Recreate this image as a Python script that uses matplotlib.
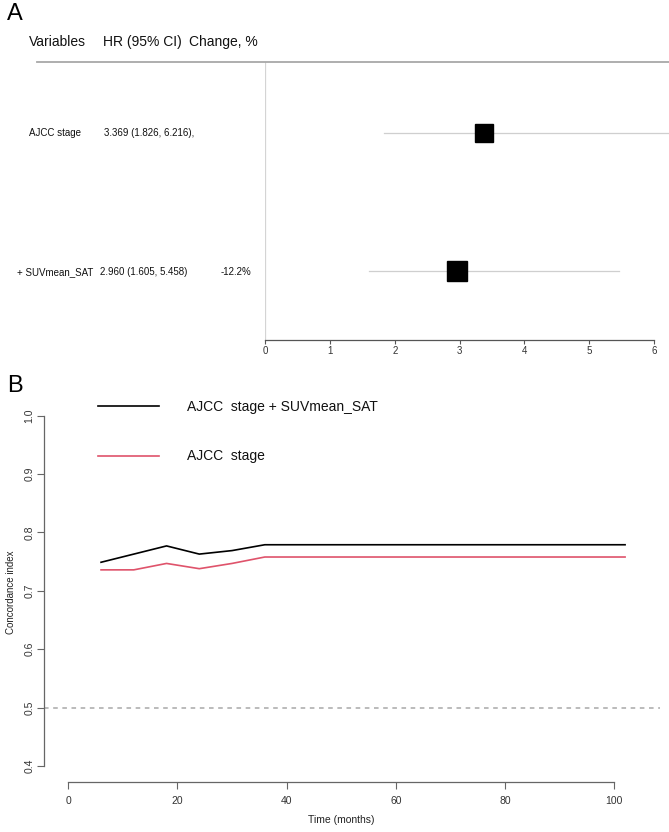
import matplotlib
matplotlib.use("Agg")
import matplotlib.pyplot as plt
from matplotlib.lines import Line2D

plt.rcParams['font.family'] = ['Liberation Sans', 'DejaVu Sans']

W, H = 669, 832
DPI = 100

# ---------------- data ----------------
variables = ["AJCC stage", "+ SUVmean_SAT"]
hr = [3.369, 2.960]
ci_lo = [1.826, 1.605]
ci_hi = [6.216, 5.458]
change = ["", "-12.2%"]
box_px = [18, 20]
forest_ticks = [0, 1, 2, 3, 4, 5, 6]
headers = ["Variables", "HR (95% CI)", "Change, %"]

months = [6, 12, 18, 24, 30, 36, 42, 48, 54, 60, 66, 72, 78, 84, 90, 96, 102]
c_combined = [0.749, 0.763, 0.777, 0.763, 0.769, 0.779, 0.779, 0.779, 0.779,
              0.779, 0.779, 0.779, 0.779, 0.779, 0.779, 0.779, 0.779]
c_stage = [0.736, 0.736, 0.747, 0.738, 0.747, 0.758, 0.758, 0.758, 0.758,
           0.758, 0.758, 0.758, 0.758, 0.758, 0.758, 0.758, 0.758]
series_labels = ["AJCC  stage + SUVmean_SAT", "AJCC  stage"]
series_colors = ["black", "#DF536B"]
time_ticks = [0, 20, 40, 60, 80, 100]
c_ticks = [0.4, 0.5, 0.6, 0.7, 0.8, 0.9, 1.0]

fig = plt.figure(figsize=(W / DPI, H / DPI), dpi=DPI)


def fx(x):
    return x / W


def fy(y):
    return 1 - y / H


def axes_px(left, top, right, bottom):
    return fig.add_axes([fx(left), fy(bottom), (right - left) / W, (bottom - top) / H])


# ---------------- Panel A ----------------
fig.text(fx(7), fy(13.5), "A", fontsize=17, va="center", ha="left")
hx = [29, 103, 189]
for x, t in zip(hx, headers):
    fig.text(fx(x), fy(46.3), t, fontsize=10, va="baseline", ha="left", color="#111111")
fig.add_artist(Line2D([fx(37), fx(669)], [fy(62.3), fy(62.3)], color="#a8a8a8", lw=1.3))

axA = axes_px(265.3, 62.3, 654, 340)
axA.set_xlim(0, 6)
axA.set_ylim(0.5025, 2.507)
rows = [2, 1]
for r, h, lo, hi, bp in zip(rows, hr, ci_lo, ci_hi, box_px):
    axA.plot([lo, hi], [r, r], color="#cfcfcf", lw=0.9, clip_on=False, zorder=2)
    axA.plot([h], [r], marker="s", ms=bp * 0.72, color="black", mec="black",
             linestyle="none", clip_on=False, zorder=3)
axA.axvline(0, color="#d4d4d4", lw=0.9, zorder=1)
for s in ["top", "right", "left"]:
    axA.spines[s].set_visible(False)
axA.spines["bottom"].set_color("#555555")
axA.spines["bottom"].set_linewidth(0.9)
axA.set_yticks([])
axA.set_xticks(forest_ticks)
axA.set_xticklabels([str(t) for t in forest_ticks])
axA.tick_params(axis="x", direction="out", length=3, width=0.8, color="#555555",
                labelsize=7, labelcolor="#333333", pad=1)

row_y = [132.7, 271.7]
for y, v, h, lo, hi, ch in zip(row_y, variables, hr, ci_lo, ci_hi, change):
    yb = y + 3.6
    vx = 29 if not v.startswith("+") else 17
    fig.text(fx(vx), fy(yb), v, fontsize=7, va="baseline", ha="left", color="#111111")
    hr_txt = f"{h:.3f} ({lo:.3f}, {hi:.3f})" + ("," if ch == "" else "")
    fig.text(fx(104 if ch == "" else 100), fy(yb), hr_txt, fontsize=7, va="baseline",
             ha="left", color="#111111")
    if ch:
        fig.text(fx(221), fy(yb), ch, fontsize=7, va="baseline", ha="left", color="#111111")

# ---------------- Panel B ----------------
fig.text(fx(7), fy(385.5), "B", fontsize=17, va="center", ha="left")
axB = axes_px(44.3, 401.7, 660, 782.3)
xlo, xhi = -4.396, 108.4
axB.set_xlim(xlo, xhi)
axB.set_ylim(1 - (782.3 - 415.7) / 583.9, 1.024)

axB.axhline(0.5, color="#a8a8a8", lw=1.1, linestyle=(0, (3, 3)), zorder=1)
handles = []
for vals, lab, col in zip([c_combined, c_stage], series_labels, series_colors):
    ln, = axB.plot(months, vals, color=col, lw=1.2, label=lab, zorder=3)
    handles.append(ln)

for s in ["top", "right"]:
    axB.spines[s].set_visible(False)
axB.spines["left"].set_bounds(0.4, 1.0)
axB.spines["bottom"].set_bounds(0, 100)
for s in ["left", "bottom"]:
    axB.spines[s].set_color("#666666")
    axB.spines[s].set_linewidth(0.9)
axB.set_xticks(time_ticks)
axB.set_xticklabels([str(t) for t in time_ticks])
axB.set_yticks(c_ticks)
axB.set_yticklabels([f"{t:.1f}" for t in c_ticks], rotation=90, va="center")
axB.tick_params(axis="both", direction="out", length=5, width=0.8, color="#666666",
                labelsize=7.5, labelcolor="#333333")
axB.tick_params(axis="x", pad=5)
axB.tick_params(axis="y", pad=2)
axB.set_xlabel("Time (months)", fontsize=7.5, color="#222222", labelpad=7)
axB.xaxis.set_label_coords((50 - xlo) / (xhi - xlo), -0.085)
axB.set_ylabel("Concordance index", fontsize=7, color="#222222", labelpad=6)

leg = axB.legend(handles=handles, loc="upper left",
                 bbox_to_anchor=(fx(98), fy(400)), bbox_transform=fig.transFigure,
                 frameon=False, fontsize=10, handlelength=4.4, handletextpad=2.0,
                 labelspacing=2.55, borderpad=0, borderaxespad=0)
for t in leg.get_texts():
    t.set_color("#111111")

fig.savefig("out.png", dpi=DPI)
